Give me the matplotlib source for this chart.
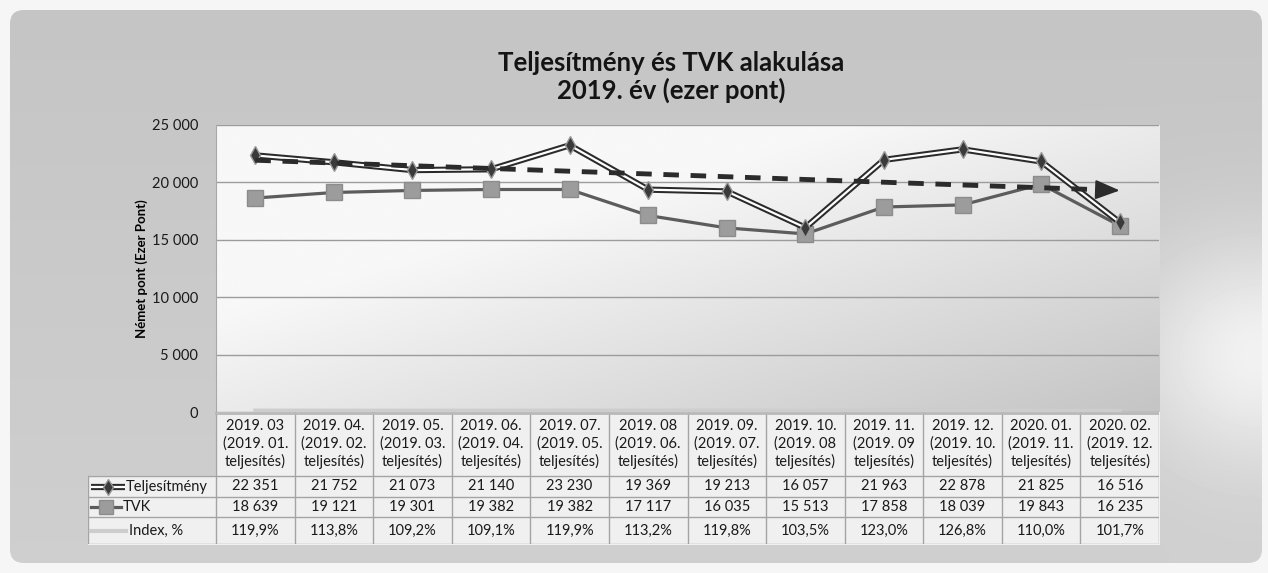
import numpy as np
import matplotlib
matplotlib.use("Agg")
import matplotlib.pyplot as plt
from matplotlib.patches import FancyBboxPatch
from matplotlib.ticker import FuncFormatter

plt.rcParams['font.family'] = ['Lato', 'DejaVu Sans']

honap = ["2019. 03", "2019. 04.", "2019. 05.", "2019. 06.", "2019. 07.", "2019. 08",
         "2019. 09.", "2019. 10.", "2019. 11.", "2019. 12.", "2020. 01.", "2020. 02."]
teljesites = ["(2019. 01.", "(2019. 02.", "(2019. 03.", "(2019. 04.", "(2019. 05.", "(2019. 06.",
              "(2019. 07.", "(2019. 08", "(2019. 09", "(2019. 10.", "(2019. 11.", "(2019. 12."]
telj = [22351, 21752, 21073, 21140, 23230, 19369, 19213, 16057, 21963, 22878, 21825, 16516]
tvk = [18639, 19121, 19301, 19382, 19382, 17117, 16035, 15513, 17858, 18039, 19843, 16235]
index = [119.9, 113.8, 109.2, 109.1, 119.9, 113.2, 119.8, 103.5, 123.0, 126.8, 110.0, 101.7]

W, H = 1268, 573
fig = plt.figure(figsize=(W / 100, H / 100), dpi=100)
fig.patch.set_facecolor('#f6f6f6')

# background: grey gradient inside a rounded box, lighter patch on the right
bg = fig.add_axes([0, 0, 1, 1])
bg.set_xlim(0, W)
bg.set_ylim(H, 0)
bg.axis('off')
yy, xx = np.mgrid[0:1:150j, 0:1:300j]
grad = 0.77 + 0.04 * yy + 0.15 * np.exp(-((xx - 1.0) / 0.1) ** 2 - ((yy - 0.62) / 0.2) ** 2)
box = FancyBboxPatch((10, 10), W - 16, H - 20, boxstyle="round,pad=0,rounding_size=14",
                     fc='none', ec='none')
bg.add_patch(box)
im = bg.imshow(grad, cmap='gray', vmin=0, vmax=1, extent=(10, W - 6, H - 10, 10),
               aspect='auto', interpolation='bicubic')
im.set_clip_path(box)

fig.text(671 / W, 1 - 63 / H, "Teljesítmény és TVK alakulása", ha='center', va='center',
         fontsize=18.5, fontweight='bold', color='#141414')
fig.text(671 / W, 1 - 90 / H, "2019. év (ezer pont)", ha='center', va='center',
         fontsize=18.5, fontweight='bold', color='#141414')

# main plot
L, R, T, B = 216, 1159, 125, 412
ax = fig.add_axes([L / W, 1 - B / H, (R - L) / W, (B - T) / H])
ax.set_facecolor('none')
# plot area shading: white top-left, grey toward bottom-right
py, px = np.mgrid[0:1:100j, 0:1:200j]
t = px * 0.6 + py * 0.6
shade = 0.97 - 0.2 * np.clip((t - 0.4) / 0.8, 0, 1)
ax.imshow(shade, cmap='gray', vmin=0, vmax=1, extent=(-0.5, 11.5, 0, 25000),
          aspect='auto', interpolation='bicubic', zorder=0)
x = np.arange(len(telj))
ax.set_xlim(-0.5, len(telj) - 0.5)
ax.set_ylim(0, 25000)
ax.set_yticks(np.arange(0, 25001, 5000))
ax.yaxis.set_major_formatter(FuncFormatter(lambda v, p: f"{int(v):,}".replace(",", " ")))
ax.tick_params(axis='y', length=0, pad=13, labelsize=10.5, labelcolor='#1a1a1a')
ax.set_xticks([])
ax.grid(axis='y', color='#9c9c9c', lw=1)
ax.set_axisbelow(True)
for s in ['top', 'right', 'bottom']:
    ax.spines[s].set_visible(False)
ax.spines['left'].set_color('#a8a8a8')
ax.set_ylabel("Német pont (Ezer Pont)", fontsize=9.5, fontweight='bold')
ax.yaxis.set_label_coords(-0.072, 0.5)

ax.plot(x, index, color='#cdcdcd', lw=3, clip_on=False, zorder=2)
ax.plot(x, tvk, color='#5c5c5c', lw=2.3, zorder=3)
ax.plot(x, tvk, ls='none', marker='s', ms=11, mfc='#9c9c9c', mec='#8c8c8c', zorder=4)
ax.plot(x, telj, color='#2a2a2a', lw=4.5, zorder=5)
ax.plot(x, telj, color='white', lw=1.6, zorder=6)
ax.plot(x, telj, ls='none', marker='d', ms=9, mfc='#3a3a3a', mec='#9a9a9a', zorder=7)

# linear trend of Teljesítmény with arrow at the end
k, b0 = np.polyfit(x, telj, 1)
tx = np.linspace(0, 10.75, 50)
ax.plot(tx, k * tx + b0, color='#2b2b2b', lw=3.5, dashes=(3.2, 2.4), zorder=8)
ax.annotate('', xy=(11, k * 11 + b0), xytext=(10.7, k * 10.7 + b0),
            arrowprops=dict(arrowstyle='-|>,head_length=1.0,head_width=0.4', color='#2b2b2b',
                            lw=1.5, shrinkA=0, shrinkB=0, mutation_scale=15), zorder=9)

# data table
TL, TB = 88, 544
tab = fig.add_axes([TL / W, 1 - TB / H, (R - TL) / W, (TB - B) / H])
tab.set_xlim(TL, R)
tab.set_ylim(TB, B)
tab.axis('off')
tab.patch.set_alpha(0)
tab.fill_between([L, R], B, TB, color='#f0f0f0', zorder=0)
tab.fill_between([TL, L], 476, TB, color='#f0f0f0', zorder=0)
cw = (R - L) / len(telj)
xs = L + cw * np.arange(len(telj) + 1)
lc = '#a4a4a4'
for xv in xs:
    tab.plot([xv, xv], [B, TB], color=lc, lw=1)
tab.plot([TL, TL], [476, TB], color=lc, lw=1)
tab.plot([L, R], [B + 1, B + 1], color='#b8b8b8', lw=2)
for yv in [476, 497, 517, TB]:
    tab.plot([TL, R], [yv, yv], color=lc, lw=1)

fs = 10.5
row_y = [486.5, 507, 530.5]
for i in range(len(telj)):
    cx = xs[i] + cw / 2
    tab.text(cx, 444, f"{honap[i]}\n{teljesites[i]}\nteljesítés)", ha='center', va='center',
             fontsize=fs, linespacing=1.25, color='#1a1a1a')
    tab.text(cx, row_y[0], f"{telj[i]:,}".replace(",", " "), ha='center', va='center',
             fontsize=fs, color='#1a1a1a')
    tab.text(cx, row_y[1], f"{tvk[i]:,}".replace(",", " "), ha='center', va='center',
             fontsize=fs, color='#1a1a1a')
    tab.text(cx, row_y[2], f"{index[i]:.1f}%".replace(".", ","), ha='center', va='center',
             fontsize=fs, color='#1a1a1a')

# legend keys in the row labels
tab.plot([91, 125], [row_y[0]] * 2, color='#2a2a2a', lw=4.5, solid_capstyle='butt')
tab.plot([91, 125], [row_y[0]] * 2, color='white', lw=1.6, solid_capstyle='butt')
tab.plot([108], [row_y[0]], marker='d', ms=8, mfc='#3a3a3a', mec='#9a9a9a')
tab.plot([91, 121], [row_y[1]] * 2, color='#5c5c5c', lw=2.3)
tab.plot([106], [row_y[1]], marker='s', ms=10, mfc='#9c9c9c', mec='#8c8c8c')
tab.plot([91, 126], [row_y[2]] * 2, color='#cdcdcd', lw=3)
tab.text(126, row_y[0], "Teljesítmény", ha='left', va='center', fontsize=fs, color='#1a1a1a')
tab.text(123, row_y[1], "TVK", ha='left', va='center', fontsize=fs, color='#1a1a1a')
tab.text(129, row_y[2], "Index, %", ha='left', va='center', fontsize=fs, color='#1a1a1a')

fig.savefig("out.png", dpi=100, facecolor=fig.get_facecolor())
